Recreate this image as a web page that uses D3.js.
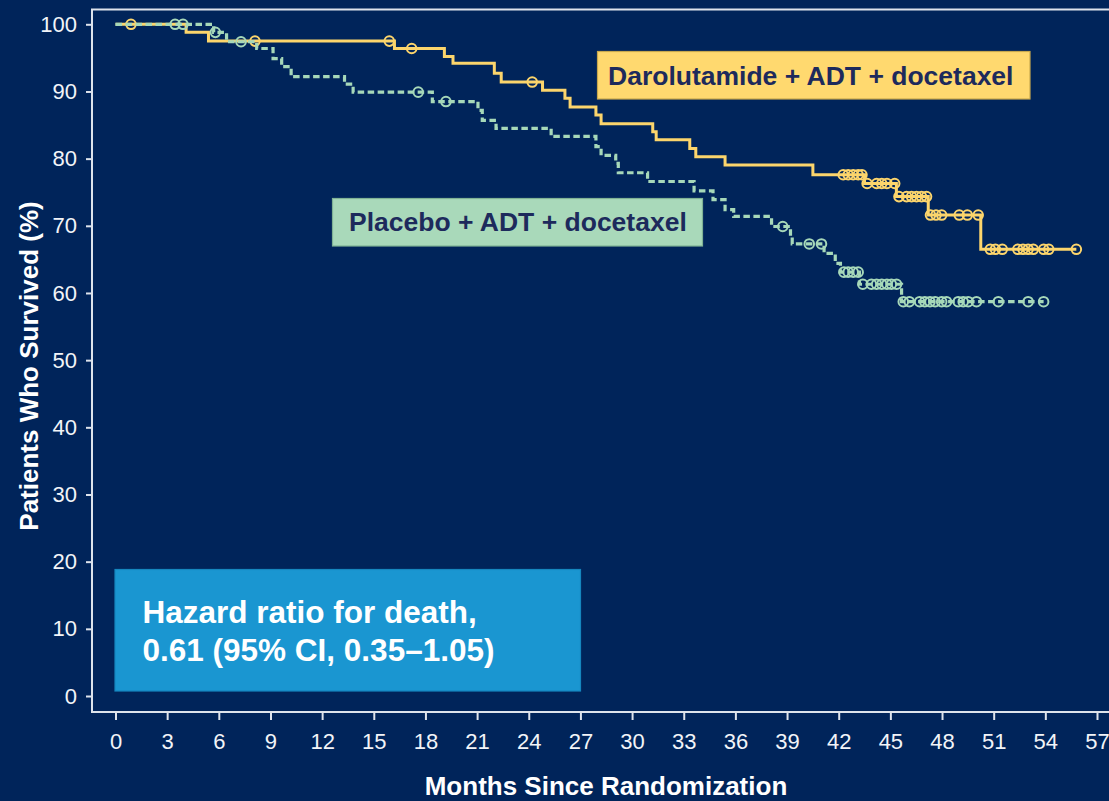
<!DOCTYPE html>
<html>
<head>
<meta charset="utf-8">
<script src="https://cdn.jsdelivr.net/npm/d3@7"></script>
<style>
  html, body { margin: 0; padding: 0; background: #00245a; }
  svg { display: block; }
  text { font-family: "Liberation Sans", Arial, Helvetica, sans-serif; }
</style>
</head>
<body>
<svg id="chart" width="1109" height="801"></svg>
<script>
// Kaplan–Meier overall survival, two arms.
// Step times (months) and survival (%) after each event.
const darStepTimes = [0, 4.1, 5.4, 16.2, 19.1, 19.6, 22.0, 22.4, 24.8, 26.1, 26.4, 27.9, 28.2, 31.2, 31.4, 33.35, 33.7, 35.4, 40.5, 43.5, 45.35, 47.2, 50.25];
const darStepSurv  = [100, 98.8, 97.5, 96.4, 95.2, 94.2, 92.7, 91.4, 90.2, 89.0, 87.7, 86.5, 85.2, 84.0, 82.8, 81.5, 80.3, 79.05, 77.6, 76.3, 74.35, 71.6, 66.5];
const darCensored  = [0.9, 8.1, 15.9, 17.2, 24.2,
  42.26, 42.55, 42.84, 43.13, 43.35,
  43.65, 44.2, 44.5, 44.8, 45.25,
  45.5, 45.94, 46.23, 46.52, 46.81, 47.1,
  47.33, 47.65, 47.98, 49.0, 49.47, 50.1,
  50.8, 51.1, 51.5, 52.4, 52.7, 53.0, 53.3, 53.9, 54.2, 55.8];

const plaStepTimes = [0, 5.7, 6.45, 8.2, 9.15, 9.65, 10.2, 13.3, 13.8, 18.4, 21.05, 21.3, 22.1, 25.3, 27.9, 28.2, 29.05, 29.2, 30.9, 33.6, 34.7, 35.4, 35.9, 38.1, 39.2, 39.3, 41.15, 41.8, 42.1, 43.2, 45.65];
const plaStepSurv  = [100, 98.8, 97.4, 96.4, 94.9, 93.7, 92.2, 91.1, 89.9, 88.5, 87.2, 85.7, 84.5, 83.3, 81.8, 80.5, 79.3, 77.9, 76.6, 75.2, 73.9, 72.4, 71.4, 69.9, 68.4, 67.3, 65.9, 64.4, 63.1, 61.3, 58.7];
const plaCensored  = [3.46, 3.92, 5.8, 7.29, 17.58, 19.19, 38.75, 40.29, 41.0,
  42.3, 42.55, 42.84, 43.13,
  43.4, 43.9, 44.2, 44.5, 44.8, 45.06, 45.36,
  45.75, 46.1, 46.7, 47.0, 47.3, 47.6, 47.98, 48.26, 48.94, 49.23, 49.52, 50.0, 51.27, 53.0, 53.9];

const xTickValues = d3.range(0, 58, 3);
const yTickValues = d3.range(0, 101, 10);

const armNames = ["Darolutamide + ADT + docetaxel", "Placebo + ADT + docetaxel"];
const hazardLines = ["Hazard ratio for death,", "0.61 (95% CI, 0.35\u20131.05)"];
const xTitle = "Months Since Randomization";
const yTitle = "Patients Who Survived (%)";

const COLORS = {
  bg: "#00245a",
  axis: "#dde3ec",
  dar: "#fcd56c",
  pla: "#a6d8b9",
  darBox: "#ffd96f",
  plaBox: "#a9d9ba",
  hazard: "#1a96d1",
  boxText: "#1d2a5c"
};

const svg = d3.select("#chart");
const W = 1109, H = 801;

svg.append("rect").attr("width", W).attr("height", H).attr("fill", COLORS.bg);

const x = d3.scaleLinear().domain([0, 57]).range([115.5, 1097]);
const y = d3.scaleLinear().domain([0, 100]).range([696, 24.3]);

const frameLeft = 92, frameTop = 9.5, frameBottom = 712;

// Frame (left, top and bottom edges)
svg.append("path")
  .attr("d", `M${W + 5},${frameTop} H${frameLeft} V${frameBottom} H${W + 5}`)
  .attr("fill", "none")
  .attr("stroke", COLORS.axis)
  .attr("stroke-width", 2);

// Y axis
const yAxis = d3.axisLeft(y).tickValues(yTickValues).tickSize(6).tickPadding(9);
const gy = svg.append("g").attr("transform", `translate(${frameLeft},0)`).call(yAxis);
gy.select(".domain").remove();
gy.selectAll(".tick line").attr("stroke", COLORS.axis).attr("stroke-width", 2);
gy.selectAll(".tick text")
  .attr("fill", "#f2f4f8")
  .style("font-size", "22px")
  .style("font-family", "'Liberation Sans', Arial, sans-serif");

// X axis
const xAxis = d3.axisBottom(x).tickValues(xTickValues).tickSize(8).tickPadding(13);
const gx = svg.append("g").attr("transform", `translate(0,${frameBottom})`).call(xAxis);
gx.select(".domain").remove();
gx.selectAll(".tick line").attr("stroke", COLORS.axis).attr("stroke-width", 2);
gx.selectAll(".tick text")
  .attr("fill", "#f2f4f8")
  .style("font-size", "22px")
  .style("font-family", "'Liberation Sans', Arial, sans-serif");

// Axis titles
svg.append("text")
  .attr("x", 606).attr("y", 795)
  .attr("text-anchor", "middle")
  .attr("fill", "#ffffff")
  .style("font-size", "26px").style("font-weight", "bold")
  .text(xTitle);

svg.append("text")
  .attr("transform", "translate(38,366) rotate(-90)")
  .attr("text-anchor", "middle")
  .attr("fill", "#ffffff")
  .style("font-size", "26px").style("font-weight", "bold")
  .text(yTitle);

// Survival helpers
function survivalAt(times, surv, t) {
  let s = surv[0];
  for (let i = 0; i < times.length; i++) if (times[i] <= t) s = surv[i];
  return s;
}
function stepPoints(times, surv, censored) {
  const pts = times.map((t, i) => [t, surv[i]]);
  const tEnd = d3.max(censored);
  pts.push([tEnd, survivalAt(times, surv, tEnd)]);
  return pts;
}

const line = d3.line()
  .x(d => x(d[0]))
  .y(d => y(d[1]))
  .curve(d3.curveStepAfter);

// Darolutamide arm (solid)
svg.append("path")
  .datum(stepPoints(darStepTimes, darStepSurv, darCensored))
  .attr("d", line)
  .attr("fill", "none")
  .attr("stroke", COLORS.dar)
  .attr("stroke-width", 3);

svg.append("g").selectAll("circle")
  .data(darCensored)
  .join("circle")
  .attr("cx", d => x(d))
  .attr("cy", d => y(survivalAt(darStepTimes, darStepSurv, d)))
  .attr("r", 4.8)
  .attr("fill", "none")
  .attr("stroke", COLORS.dar)
  .attr("stroke-width", 2);

// Placebo arm (dashed)
svg.append("path")
  .datum(stepPoints(plaStepTimes, plaStepSurv, plaCensored))
  .attr("d", line)
  .attr("fill", "none")
  .attr("stroke", COLORS.pla)
  .attr("stroke-width", 3.2)
  .attr("stroke-dasharray", "6.5,3.5");

svg.append("g").selectAll("circle")
  .data(plaCensored)
  .join("circle")
  .attr("cx", d => x(d))
  .attr("cy", d => y(survivalAt(plaStepTimes, plaStepSurv, d)))
  .attr("r", 4.8)
  .attr("fill", "none")
  .attr("stroke", COLORS.pla)
  .attr("stroke-width", 2);

// Arm labels and hazard-ratio note
function labelBox(x0, y0, w, h, fill, stroke, txt, tx, ty, size, color) {
  const g = svg.append("g");
  g.append("rect")
    .attr("x", x0).attr("y", y0).attr("width", w).attr("height", h)
    .attr("fill", fill).attr("stroke", stroke).attr("stroke-width", 1.2);
  const lines = Array.isArray(txt) ? txt : [txt];
  const tys = Array.isArray(ty) ? ty : [ty];
  lines.forEach((l, i) => {
    g.append("text")
      .attr("x", tx).attr("y", tys[i])
      .attr("fill", color)
      .style("font-size", size + "px").style("font-weight", "bold")
      .text(l);
  });
}

labelBox(597.5, 51.5, 432.5, 47.5, COLORS.darBox, "#c8a94e", armNames[0], 608, 85, 26.5, COLORS.boxText);
labelBox(332.5, 198.5, 370, 47.5, COLORS.plaBox, "#7fb295", armNames[1], 349, 231, 26.5, COLORS.boxText);
labelBox(115, 569.5, 465.5, 121.5, COLORS.hazard, "#1586be", hazardLines, 142.5, [623, 661], 31.5, "#ffffff");
</script>
</body>
</html>
